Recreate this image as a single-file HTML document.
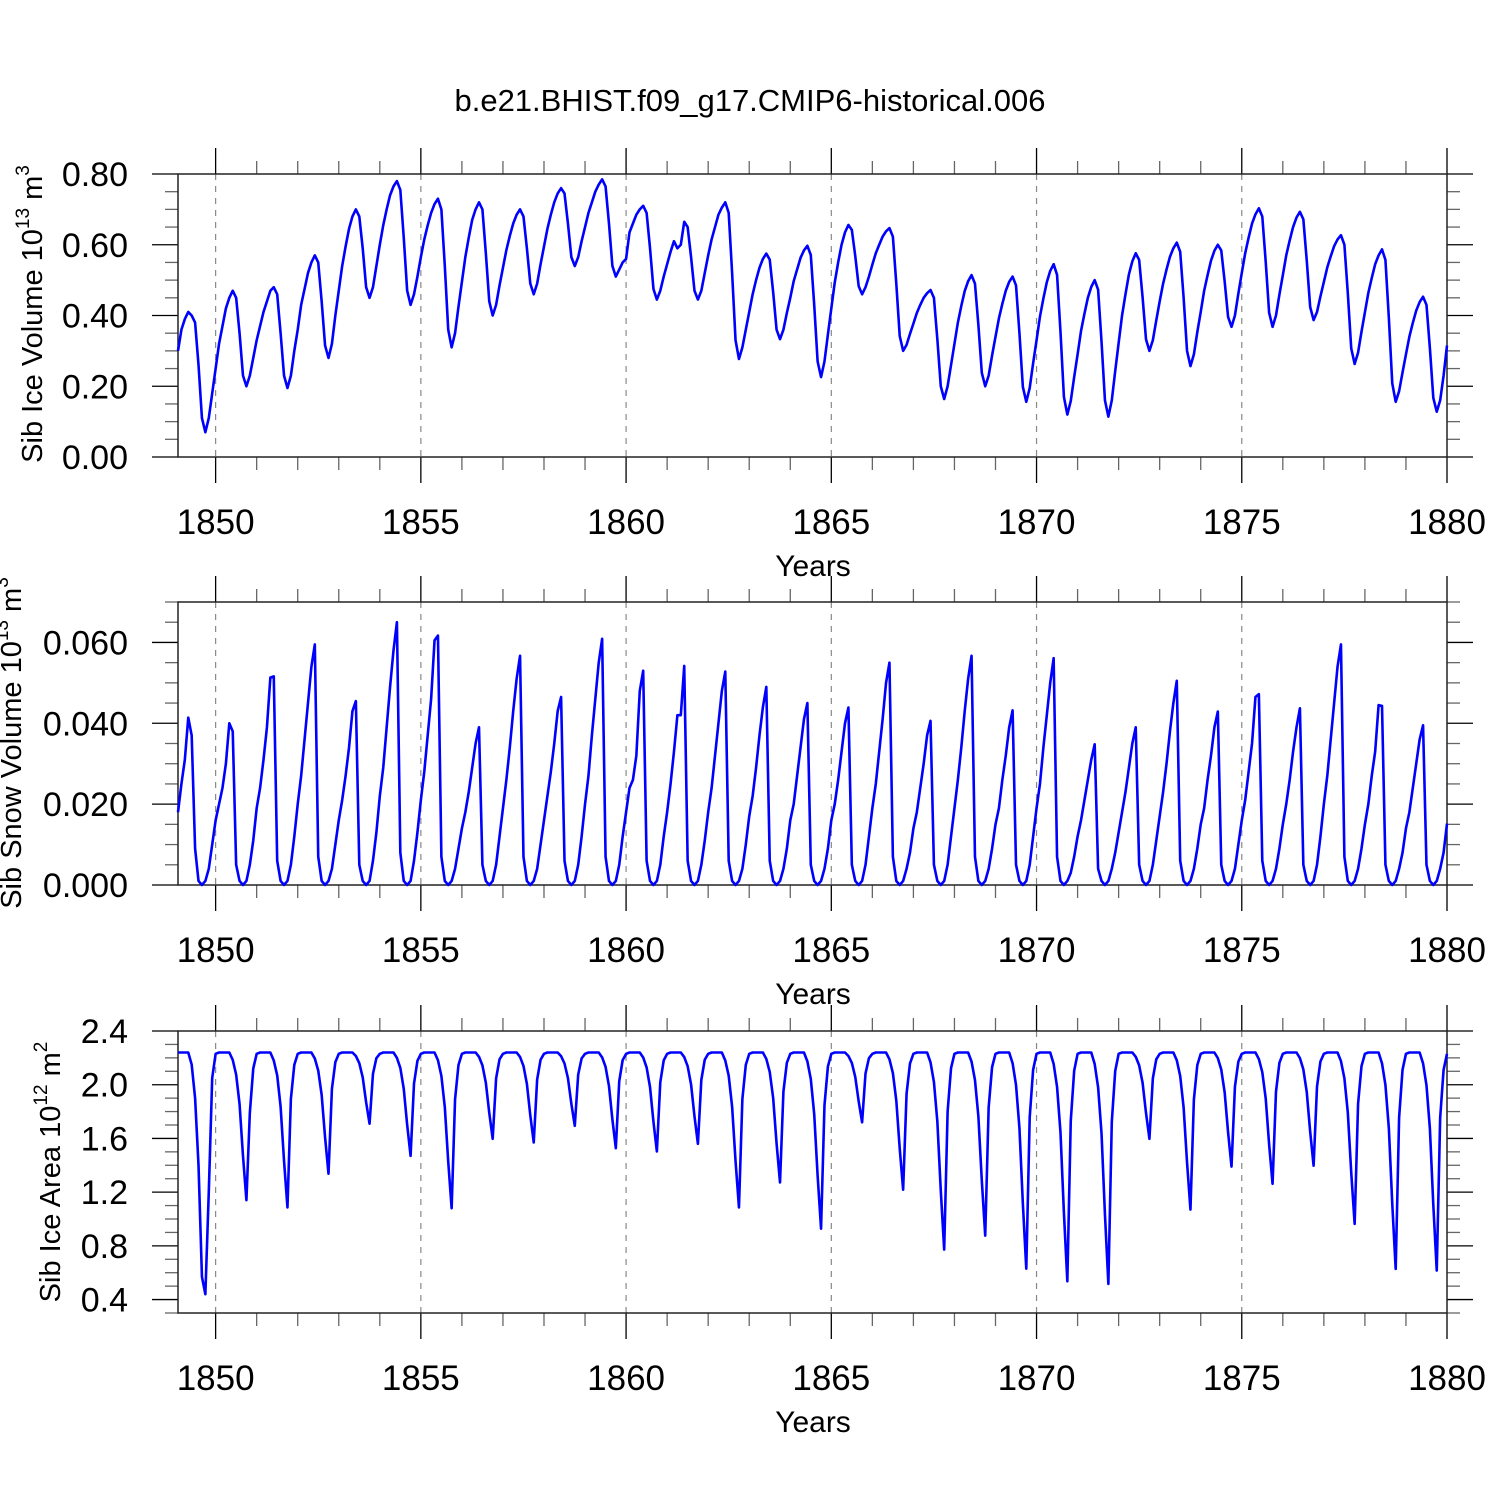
<!DOCTYPE html>
<html><head><meta charset="utf-8"><style>
html,body{margin:0;padding:0;background:#fff;}
svg{display:block;font-family:"Liberation Sans",Arial,sans-serif;}
</style></head><body>
<svg id="chart" width="1500" height="1500" viewBox="0 0 1500 1500" xmlns="http://www.w3.org/2000/svg">
<rect width="1500" height="1500" fill="#fff"/>
<text x="750" y="111" font-size="31" text-anchor="middle">b.e21.BHIST.f09_g17.CMIP6-historical.006</text>
</svg>
<script>
// x-axis: monthly points from 1849 (first month) to 1880
const startYear = 1849;
const xTickYears = [1850, 1855, 1860, 1865, 1870, 1875, 1880];

// Sib Ice Volume (10^13 m^3), monthly, 1849..1879
const iceVolume = [
0.30,0.36,0.39,0.41,0.40,0.38,0.26,0.11,0.07,0.11,0.18,0.25,
0.32,0.37,0.42,0.45,0.47,0.45,0.35,0.23,0.20,0.23,0.28,0.33,
0.37,0.41,0.44,0.47,0.48,0.46,0.35,0.23,0.195,0.23,0.30,0.36,
0.43,0.475,0.52,0.55,0.57,0.55,0.44,0.315,0.28,0.32,0.40,0.47,
0.54,0.595,0.645,0.68,0.70,0.68,0.59,0.48,0.45,0.48,0.54,0.60,
0.655,0.70,0.74,0.765,0.78,0.755,0.62,0.47,0.43,0.46,0.51,0.565,
0.615,0.655,0.69,0.715,0.73,0.70,0.54,0.36,0.31,0.35,0.425,0.495,
0.565,0.62,0.67,0.70,0.72,0.70,0.576,0.44,0.40,0.43,0.485,0.535,
0.585,0.625,0.66,0.685,0.70,0.68,0.59,0.49,0.46,0.49,0.545,0.595,
0.645,0.685,0.72,0.745,0.76,0.745,0.66,0.565,0.54,0.565,0.61,0.65,
0.69,0.72,0.75,0.77,0.785,0.765,0.66,0.54,0.51,0.53,0.55,0.56,
0.635,0.66,0.685,0.70,0.71,0.69,0.59,0.475,0.445,0.47,0.51,0.545,
0.58,0.61,0.59,0.60,0.665,0.65,0.565,0.47,0.445,0.47,0.52,0.57,
0.615,0.65,0.685,0.705,0.72,0.69,0.52,0.33,0.277,0.31,0.36,0.41,
0.46,0.50,0.535,0.56,0.575,0.558,0.466,0.36,0.333,0.36,0.407,0.45,
0.497,0.53,0.563,0.584,0.597,0.571,0.43,0.27,0.226,0.27,0.346,0.42,
0.493,0.55,0.60,0.635,0.656,0.642,0.568,0.483,0.46,0.48,0.51,0.544,
0.576,0.60,0.623,0.638,0.647,0.623,0.49,0.342,0.30,0.317,0.348,0.377,
0.407,0.43,0.45,0.463,0.472,0.45,0.333,0.20,0.164,0.20,0.26,0.32,
0.38,0.427,0.469,0.497,0.514,0.49,0.373,0.238,0.20,0.23,0.287,0.34,
0.392,0.433,0.47,0.495,0.51,0.485,0.35,0.198,0.156,0.195,0.265,0.33,
0.397,0.448,0.494,0.526,0.545,0.515,0.354,0.17,0.12,0.158,0.226,0.29,
0.356,0.405,0.45,0.481,0.50,0.473,0.326,0.16,0.114,0.16,0.243,0.322,
0.40,0.46,0.516,0.553,0.576,0.557,0.452,0.333,0.30,0.33,0.386,0.44,
0.49,0.53,0.566,0.59,0.606,0.58,0.45,0.30,0.257,0.29,0.353,0.41,
0.47,0.514,0.555,0.583,0.60,0.584,0.496,0.396,0.368,0.40,0.462,0.52,
0.576,0.62,0.66,0.686,0.703,0.68,0.552,0.408,0.368,0.40,0.459,0.514,
0.57,0.612,0.65,0.677,0.693,0.672,0.555,0.424,0.387,0.41,0.454,0.495,
0.536,0.567,0.596,0.615,0.627,0.60,0.463,0.307,0.263,0.295,0.354,0.409,
0.464,0.506,0.545,0.57,0.587,0.557,0.393,0.208,0.156,0.186,0.239,0.29,
0.34,0.379,0.414,0.438,0.453,0.43,0.307,0.167,0.128,0.16,0.23,0.315
];

// Sib Snow Volume (10^13 m^3), monthly
const snowVolume = [
.018,.025,.031,.0414,.037,.009,.001,0,.001,.004,.010,.016,
.020,.024,.030,.040,.038,.005,.001,0,.001,.005,.011,.019,
.024,.031,.039,.0513,.0516,.006,.001,0,.001,.005,.012,.020,
.027,.036,.045,.054,.0595,.007,.001,0,.001,.004,.010,.016,
.021,.027,.034,.043,.0455,.005,.001,0,.001,.006,.013,.022,
.029,.039,.049,.058,.065,.008,.001,0,.001,.006,.013,.021,
.028,.037,.046,.0605,.0617,.007,.001,0,.001,.004,.009,.014,
.018,.023,.029,.035,.039,.005,.001,0,.001,.005,.012,.019,
.026,.034,.043,.051,.0567,.007,.001,0,.001,.004,.010,.016,
.022,.028,.035,.043,.0465,.006,.001,0,.001,.005,.012,.020,
.027,.037,.046,.055,.0609,.007,.001,0,.001,.005,.012,.018,
.024,.026,.032,.048,.053,.006,.001,0,.001,.005,.012,.018,
.025,.033,.042,.042,.0542,.006,.001,0,.001,.005,.011,.018,
.024,.032,.040,.048,.0528,.006,.001,0,.001,.004,.010,.017,
.022,.029,.037,.044,.049,.006,.001,0,.001,.004,.009,.016,
.020,.027,.034,.041,.045,.005,.001,0,.001,.004,.009,.016,
.020,.026,.033,.040,.0439,.005,.001,0,.001,.005,.012,.019,
.025,.033,.041,.050,.055,.007,.001,0,.001,.004,.008,.014,
.018,.024,.030,.037,.0406,.005,.001,0,.001,.005,.012,.019,
.026,.034,.043,.051,.0567,.007,.001,0,.001,.004,.009,.015,
.019,.026,.032,.039,.0432,.005,.001,0,.001,.005,.012,.019,
.025,.034,.042,.050,.0561,.007,.001,0,.001,.003,.007,.012,
.016,.021,.026,.031,.0348,.004,.001,0,.001,.004,.008,.013,
.018,.023,.029,.035,.039,.005,.001,0,.001,.005,.011,.017,
.023,.030,.038,.045,.0505,.006,.001,0,.001,.004,.009,.015,
.019,.026,.032,.039,.0429,.005,.001,0,.001,.004,.010,.016,
.021,.028,.035,.0465,.0472,.006,.001,0,.001,.004,.009,.015,
.020,.026,.033,.039,.0437,.005,.001,0,.001,.005,.012,.020,
.027,.036,.045,.054,.0595,.007,.001,0,.001,.004,.009,.015,
.020,.027,.033,.0445,.0443,.005,.001,0,.001,.004,.008,.014,
.018,.024,.030,.036,.0395,.005,.001,0,.001,.004,.008,.0152
];

// Sib Ice Area (10^12 m^2), monthly
const iceArea = [
2.24,2.24,2.24,2.24,2.15,1.90,1.40,0.57,0.44,1.20,2.05,2.23,
2.24,2.24,2.24,2.24,2.185,2.075,1.855,1.47,1.14,1.79,2.12,2.23,
2.24,2.24,2.24,2.24,2.18,2.07,1.836,1.432,1.086,1.894,2.148,2.23,
2.24,2.24,2.24,2.24,2.195,2.105,1.924,1.608,1.337,1.969,2.168,2.23,
2.24,2.24,2.24,2.24,2.214,2.16,2.055,1.869,1.71,2.081,2.198,2.23,
2.24,2.24,2.24,2.24,2.2,2.125,1.97,1.701,1.47,2.009,2.178,2.23,
2.24,2.24,2.24,2.24,2.182,2.066,1.834,1.428,1.08,1.892,2.147,2.23,
2.24,2.24,2.24,2.24,2.208,2.144,2.015,1.79,1.597,2.047,2.189,2.23,
2.24,2.24,2.24,2.24,2.207,2.14,2.006,1.771,1.57,2.039,2.186,2.23,
2.24,2.24,2.24,2.24,2.213,2.158,2.049,1.858,1.694,2.076,2.196,2.23,
2.24,2.24,2.24,2.24,2.204,2.133,1.99,1.741,1.527,2.026,2.183,2.23,
2.24,2.24,2.24,2.24,2.203,2.129,1.982,1.724,1.503,2.019,2.181,2.23,
2.24,2.24,2.24,2.24,2.206,2.138,2.002,1.764,1.56,2.036,2.186,2.23,
2.24,2.24,2.24,2.24,2.18,2.067,1.836,1.432,1.086,1.894,2.148,2.23,
2.24,2.24,2.24,2.24,2.192,2.095,1.901,1.562,1.272,1.95,2.163,2.23,
2.24,2.24,2.24,2.24,2.174,2.043,1.781,1.322,0.928,1.846,2.135,2.23,
2.24,2.24,2.24,2.24,2.214,2.162,2.058,1.876,1.72,2.084,2.198,2.23,
2.24,2.24,2.24,2.24,2.189,2.087,1.882,1.525,1.218,1.933,2.158,2.23,
2.24,2.24,2.24,2.24,2.167,2.02,1.726,1.212,0.772,1.8,2.123,2.23,
2.24,2.24,2.24,2.24,2.172,2.035,1.763,1.285,0.876,1.831,2.131,2.23,
2.24,2.24,2.24,2.24,2.16,1.998,1.677,1.113,0.63,1.757,2.111,2.23,
2.24,2.24,2.24,2.24,2.155,1.984,1.644,1.047,0.536,1.729,2.104,2.23,
2.24,2.24,2.24,2.24,2.154,1.981,1.637,1.033,0.516,1.723,2.102,2.23,
2.24,2.24,2.24,2.24,2.208,2.144,2.015,1.79,1.597,2.047,2.189,2.23,
2.24,2.24,2.24,2.24,2.182,2.065,1.83,1.421,1.07,1.889,2.146,2.23,
2.24,2.24,2.24,2.24,2.198,2.113,1.943,1.645,1.39,1.985,2.172,2.23,
2.24,2.24,2.24,2.24,2.191,2.093,1.898,1.555,1.262,1.947,2.162,2.23,
2.24,2.24,2.24,2.24,2.198,2.114,1.945,1.65,1.397,1.987,2.173,2.23,
2.24,2.24,2.24,2.24,2.176,2.048,1.793,1.346,0.963,1.857,2.138,2.23,
2.24,2.24,2.24,2.24,2.159,1.998,1.676,1.112,0.628,1.756,2.111,2.23,
2.24,2.24,2.24,2.24,2.159,1.996,1.672,1.103,0.616,1.753,2.11,2.23
];

const volTicks = ["0.00","0.20","0.40","0.60","0.80"];
const snowTicks = ["0.000","0.020","0.040","0.060"];
const areaTicks = ["0.4","0.8","1.2","1.6","2.0","2.4"];

const NS = "http://www.w3.org/2000/svg";
const svg = document.getElementById('chart');
const X0 = 178, X1 = 1447, T0 = 1849 + 1/12, T1 = 1880;
function xs(t){ return X0 + (t - T0) / (T1 - T0) * (X1 - X0); }
function mk(tag, attrs, parent){
  const e = document.createElementNS(NS, tag);
  for (const k in attrs) e.setAttribute(k, attrs[k]);
  (parent || svg).appendChild(e);
  return e;
}

const panels = [
  {key:'ice-volume', top:174, bot:457, vmin:0, vmax:0.8, minorStep:0.05, data:iceVolume, ticks:volTicks,
   title:['Sib Ice Volume 10','13',' m','3'], tx:42, ty:314},
  {key:'snow-volume', top:602, bot:885, vmin:0, vmax:0.07, minorStep:0.005, data:snowVolume, ticks:snowTicks,
   title:['Sib Snow Volume 10','13',' m','3'], tx:21, ty:743},
  {key:'ice-area', top:1031, bot:1313, vmin:0.3, vmax:2.4, minorStep:0.1, data:iceArea, ticks:areaTicks,
   title:['Sib Ice Area 10','12',' m','2'], tx:60, ty:1172}
];

panels.forEach(p => {
  const g = mk('g', {});
  
  
  const ys = v => p.bot - (v - p.vmin) / (p.vmax - p.vmin) * (p.bot - p.top);

  xTickYears.forEach(yr => {
    const x = xs(yr);
    if (x < X1 - 1) {
      const l = mk('line', {x1:x, x2:x, y1:p.top, y2:p.bot, stroke:'#888', 'stroke-width':1.2, 'stroke-dasharray':'6,6'}, g);
      
      
    }
  });

  for (let yr = 1849; yr <= 1880; yr++) {
    const x = xs(yr);
    if (x < X0 - 0.5) continue;
    const major = (yr % 5 === 0);
    const len = major ? 26 : 13;
    const col = major ? '#000' : '#666';
    mk('line', {x1:x, x2:x, y1:p.top - len, y2:p.top, stroke:col, 'stroke-width':1.3}, g);
    mk('line', {x1:x, x2:x, y1:p.bot, y2:p.bot + len, stroke:col, 'stroke-width':1.3}, g);
  }
  xTickYears.forEach(yr => {
    const t = mk('text', {x:xs(yr), y:p.bot + 77, 'font-size':35, 'text-anchor':'middle', fill:'#000'}, g);
    
    
    t.textContent = yr;
  });
  const xt = mk('text', {x:813, y:p.bot + 119, 'font-size':30, 'text-anchor':'middle', fill:'#000'}, g);
  
  
  xt.textContent = 'Years';

  const nMinor = Math.round((p.vmax - p.vmin) / p.minorStep);
  for (let k = 0; k <= nMinor; k++) {
    const v = p.vmin + k * p.minorStep;
    const y = ys(v);
    const isMajor = p.ticks.some(s => Math.abs(parseFloat(s) - v) < 1e-6);
    const len = isMajor ? 26 : 13;
    const col = isMajor ? '#000' : '#666';
    mk('line', {x1:X0 - len, x2:X0, y1:y, y2:y, stroke:col, 'stroke-width':1.3}, g);
    mk('line', {x1:X1, x2:X1 + len, y1:y, y2:y, stroke:col, 'stroke-width':1.3}, g);
  }
  p.ticks.forEach(s => {
    const t = mk('text', {x:128, y:ys(parseFloat(s)) + 12, 'font-size':34, 'text-anchor':'end', fill:'#000'}, g);
    
    
    t.textContent = s;
  });

  const fr = mk('rect', {x:X0, y:p.top, width:X1 - X0, height:p.bot - p.top, fill:'none', stroke:'#222', 'stroke-width':1.5}, g);
  
  

  const pts = p.data.map((v, i) => xs(startYear + (i + 1) / 12).toFixed(2) + ',' + ys(v).toFixed(2)).join(' ');
  const line = mk('polyline', {points:pts, fill:'none', stroke:'#0000ff', 'stroke-width':2.6, 'stroke-linejoin':'round'}, g);
  
  

  const yt = mk('text', {x:p.tx, y:p.ty, 'font-size':29, 'text-anchor':'middle', fill:'#000', transform:'rotate(-90 ' + p.tx + ' ' + p.ty + ')'}, g);
  
  
  const parts = p.title;
  const s1 = mk('tspan', {}, yt); s1.textContent = parts[0];
  const s2 = mk('tspan', {dy:-13, 'font-size':19}, yt); s2.textContent = parts[1];
  const s3 = mk('tspan', {dy:13}, yt); s3.textContent = parts[2];
  const s4 = mk('tspan', {dy:-13, 'font-size':19}, yt); s4.textContent = parts[3];
});
</script>
</body></html>
